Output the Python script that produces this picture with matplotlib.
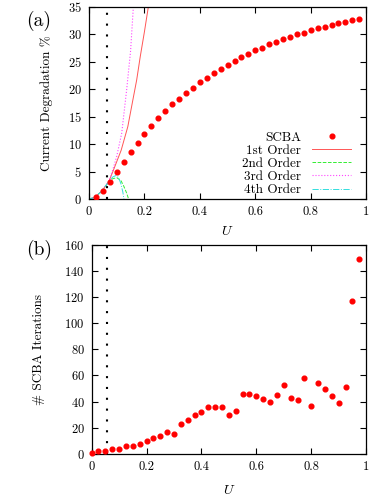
import matplotlib
matplotlib.use('Agg')
import matplotlib.pyplot as plt

plt.rcParams['font.family'] = ['cmr10', 'DejaVu Serif']
plt.rcParams['mathtext.fontset'] = 'cm'
plt.rcParams['axes.formatter.use_mathtext'] = True
plt.rcParams['font.size'] = 9

# (a) SCBA current degradation
U_A = [0.025, 0.05, 0.075, 0.1, 0.125, 0.15, 0.175, 0.2, 0.225, 0.25,
       0.275, 0.3, 0.325, 0.35, 0.375, 0.4, 0.425, 0.45, 0.475, 0.5,
       0.525, 0.55, 0.575, 0.6, 0.625, 0.65, 0.675, 0.7, 0.725, 0.75,
       0.775, 0.8, 0.825, 0.85, 0.875, 0.9, 0.925, 0.95, 0.975]
SCBA_A = [0.3, 1.45, 3.1, 4.9, 6.8, 8.6, 10.3, 11.9, 13.3, 14.8,
          16.05, 17.3, 18.3, 19.4, 20.3, 21.3, 22.1, 23.0, 23.7, 24.5,
          25.1, 25.9, 26.5, 27.1, 27.6, 28.2, 28.6, 29.1, 29.6, 30.0,
          30.3, 30.8, 31.1, 31.4, 31.7, 32.1, 32.3, 32.6, 32.8]

# perturbation orders
U_1ST = [0.0, 0.02, 0.045, 0.071, 0.086, 0.116, 0.14, 0.158, 0.172, 0.185, 0.2, 0.214, 0.225]
V_1ST = [0.0, 0.3, 1.4, 3.15, 5.0, 8.9, 13.2, 18.0, 21.7, 26.0, 30.5, 35.0, 38.5]
U_2ND = [0.0, 0.02, 0.045, 0.07, 0.085, 0.1, 0.115, 0.125, 0.135, 0.143]
V_2ND = [0.0, 0.3, 1.4, 3.0, 3.7, 3.9, 3.4, 2.4, 1.2, 0.0]
U_3RD = [0.0, 0.02, 0.045, 0.071, 0.085, 0.1, 0.118, 0.136, 0.15, 0.16, 0.168]
V_3RD = [0.0, 0.3, 1.4, 3.2, 5.2, 7.8, 12.0, 20.0, 27.0, 35.0, 40.0]
U_4TH = [0.0, 0.02, 0.045, 0.07, 0.085, 0.097, 0.107, 0.115, 0.122, 0.126]
V_4TH = [0.0, 0.3, 1.4, 3.1, 4.0, 4.3, 3.9, 2.8, 1.3, 0.0]

# (b) number of SCBA iterations
U_B = [0.0, 0.025, 0.05, 0.075, 0.1, 0.125, 0.15, 0.175, 0.2, 0.225,
       0.25, 0.275, 0.3, 0.325, 0.35, 0.375, 0.4, 0.425, 0.45, 0.475,
       0.5, 0.525, 0.55, 0.575, 0.6, 0.625, 0.65, 0.675, 0.7, 0.725,
       0.75, 0.775, 0.8, 0.825, 0.85, 0.875, 0.9, 0.925, 0.95, 0.975]
ITER_B = [1, 2, 2, 4, 4, 6, 6, 8, 10, 12,
          14, 17, 15, 23, 26, 30, 32, 36, 36, 36,
          30, 33, 46, 46, 44, 42, 40, 45, 53, 43,
          41, 58, 37, 54, 50, 44, 39, 51, 117, 149]

U_LINE_A = 0.066
U_LINE_B = 0.055


def style_axes(ax):
    ax.tick_params(direction='in', top=True, right=True, length=4, width=0.8, labelsize=9, pad=5)
    for s in ax.spines.values():
        s.set_linewidth(0.9)


fig = plt.figure(figsize=(3.74, 4.99), dpi=100)

ax1 = fig.add_axes([0.238, 0.601, 0.741, 0.385])
ax1.plot(U_A, SCBA_A, 'o', color='red', markersize=3.4, label='SCBA', zorder=5)
ax1.plot(U_1ST, V_1ST, '-', color='#ff5555', lw=0.7, label='1st Order')
ax1.plot(U_2ND, V_2ND, '--', color='#33ee33', lw=0.7, label='2nd Order')
ax1.plot(U_3RD, V_3RD, ':', color='#ff44ff', lw=0.8, label='3rd Order')
ax1.plot(U_4TH, V_4TH, '-.', color='#33dddd', lw=0.7, label='4th Order')
ax1.axvline(U_LINE_A, color='black', lw=1.5, linestyle=(0, (1, 4.2)))
ax1.set_xlim(0, 1)
ax1.set_ylim(0, 35)
ax1.set_xticks([0, 0.2, 0.4, 0.6, 0.8, 1])
ax1.set_xticklabels(['0', '0.2', '0.4', '0.6', '0.8', '1'])
ax1.set_yticks(range(0, 36, 5))
ax1.set_xlabel('$U$', fontsize=10, labelpad=5)
ax1.set_ylabel('Current Degradation %', fontsize=9.5, labelpad=11)
style_axes(ax1)
ax1.legend(loc='lower right', bbox_to_anchor=(0.975, -0.026), markerfirst=False,
           frameon=False, fontsize=9.5, handlelength=3.0, labelspacing=0.07,
           borderaxespad=0.3, handletextpad=0.8, borderpad=0.3)
fig.text(0.07, 0.958, '(a)', fontsize=14, va='center')

ax2 = fig.add_axes([0.245, 0.090, 0.734, 0.420])
ax2.plot(U_B, ITER_B, 'o', color='red', markersize=3.4, clip_on=False, zorder=5)
ax2.axvline(U_LINE_B, color='black', lw=1.5, linestyle=(0, (1, 4.2)))
ax2.set_xlim(0, 1)
ax2.set_ylim(0, 160)
ax2.set_xticks([0, 0.2, 0.4, 0.6, 0.8, 1])
ax2.set_xticklabels(['0', '0.2', '0.4', '0.6', '0.8', '1'])
ax2.set_yticks(range(0, 161, 20))
ax2.set_xlabel('$U$', fontsize=10, labelpad=8)
ax2.set_ylabel('# SCBA Iterations', fontsize=9.5, labelpad=14)
style_axes(ax2)
fig.text(0.07, 0.500, '(b)', fontsize=14, va='center')

fig.savefig('out.png', dpi=100)
